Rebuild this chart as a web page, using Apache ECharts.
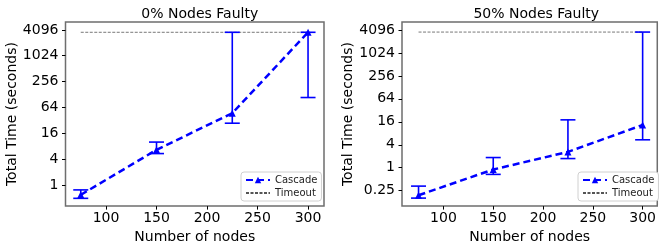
<!DOCTYPE html>
<html>
<head>
<meta charset="utf-8">
<script src="https://cdn.jsdelivr.net/npm/echarts@6/dist/echarts.min.js"></script>
<style>
  html, body { margin: 0; padding: 0; background: #fff; }
  #chart { width: 659px; height: 249px; }
</style>
</head>
<body>
<div id="chart"></div>
<script>
// values (seconds)
const nodes = [75, 150, 225, 300];
const timeout = 3600;
const xTicks = [100, 150, 200, 250, 300];
const yTicks = [-2, 0, 2, 4, 6, 8, 10, 12]; // log2 exponents

const cascade0 = [0.59, 6.6, 47, 3600];
const cascade0Lo = [0.49, 5.4, 27.5, 109];
const cascade0Hi = [0.77, 10, 3600, 3600];

const cascade50 = [0.19, 0.9, 2.6, 13.2];
const cascade50Lo = [0.16, 0.67, 1.74, 5.4];
const cascade50Hi = [0.33, 1.85, 18, 3600];

const titles = ['0% Nodes Faulty', '50% Nodes Faulty'];

const FONT = 'DejaVu Sans';
const BLUE = '#0000ff';

const chart = echarts.init(document.getElementById('chart'), null, { renderer: 'canvas' });

function errRender(params, api) {
  const x = api.value(0);
  const p1 = api.coord([x, api.value(1)]);
  const p2 = api.coord([x, api.value(2)]);
  const cap = 7.5;
  const style = { stroke: BLUE, lineWidth: 1.6 };
  return {
    type: 'group',
    children: [
      { type: 'line', shape: { x1: p1[0], y1: p1[1], x2: p2[0], y2: p2[1] }, style },
      { type: 'line', shape: { x1: p1[0] - cap, y1: p1[1], x2: p1[0] + cap, y2: p1[1] }, style },
      { type: 'line', shape: { x1: p2[0] - cap, y1: p2[1], x2: p2[0] + cap, y2: p2[1] }, style },
    ],
  };
}

const grids = [
  { left: 65.5, top: 22, width: 258.5, height: 186 },
  { left: 402, top: 22, width: 258.5, height: 186 },
];
const xRange = [[59.9, 315.8], [58.4, 314.7]];
const yRange = [[-1.63, 12.61], [-3.34, 12.69]];
const sets = [
  [cascade0, cascade0Lo, cascade0Hi],
  [cascade50, cascade50Lo, cascade50Hi],
];

const option = {
  animation: false,
  textStyle: { fontFamily: FONT },
  title: titles.map((t, i) => ({
    text: t,
    left: grids[i].left + grids[i].width / 2,
    textAlign: 'center',
    top: 2,
    textStyle: { fontFamily: FONT, fontSize: 14, fontWeight: 'normal', color: '#000' },
  })),
  grid: grids.map(g => Object.assign({
    show: true, borderColor: '#6e6e6e', borderWidth: 1.5, backgroundColor: 'transparent',
  }, g)),
  legend: grids.map((g, i) => ({
    data: ['Cascade', { name: 'Timeout', itemStyle: { opacity: 0 } }],
    orient: 'vertical',
    left: i === 0 ? 241 : 578,
    top: 172,
    padding: [3, 4],
    itemGap: 3,
    itemWidth: 24,
    itemHeight: 8,
    borderColor: '#d0d0d0',
    borderWidth: 1,
    borderRadius: 3,
    backgroundColor: '#fff',
    selectedMode: false,
    textStyle: { fontFamily: FONT, fontSize: 10, color: '#222' },
  })),
  xAxis: grids.map((g, i) => ({
    type: 'value',
    gridIndex: i,
    min: xRange[i][0],
    max: xRange[i][1],
    name: 'Number of nodes',
    nameLocation: 'middle',
    nameGap: 23,
    nameTextStyle: { fontFamily: FONT, fontSize: 14, color: '#000' },
    splitLine: { show: false },
    axisLine: { show: false, onZero: false },
    axisTick: { show: true, length: 3.5, lineStyle: { color: '#000' }, customValues: xTicks },
    axisLabel: { fontFamily: FONT, fontSize: 14, color: '#000', margin: 5, customValues: xTicks },
  })),
  yAxis: grids.map((g, i) => {
    const ticks = yTicks.filter(v => v >= yRange[i][0] && v <= yRange[i][1]);
    return {
      type: 'value',
      gridIndex: i,
      min: yRange[i][0],
      max: yRange[i][1],
      name: 'Total Time (seconds)',
      nameLocation: 'middle',
      nameGap: i === 0 ? 42 : 41,
      nameTextStyle: { fontFamily: FONT, fontSize: 14, color: '#000' },
      splitLine: { show: false },
      axisLine: { show: false, onZero: false },
      axisTick: { show: true, length: 3.5, lineStyle: { color: '#000' }, customValues: ticks },
      axisLabel: {
        fontFamily: FONT, fontSize: 14, color: '#000', margin: 7,
        customValues: ticks,
        formatter: v => String(Math.pow(2, v)),
      },
    };
  }),
  series: [],
};

sets.forEach((s, i) => {
  const [mean, lo, hi] = s;
  option.series.push({
    name: 'Timeout',
    type: 'line',
    xAxisIndex: i,
    yAxisIndex: i,
    data: [[nodes[0], Math.log2(timeout)], [nodes[nodes.length - 1], Math.log2(timeout)]],
    symbol: 'none',
    color: '#555',
    lineStyle: { color: '#555', width: 0.8, type: [3, 1.5] },
    z: 2,
  });
  option.series.push({
    name: 'errors',
    type: 'custom',
    xAxisIndex: i,
    yAxisIndex: i,
    renderItem: errRender,
    encode: { x: 0, y: [1, 2] },
    data: nodes.map((n, k) => [n, Math.log2(lo[k]), Math.log2(hi[k])]),
    clip: false,
    z: 3,
  });
  option.series.push({
    name: 'Cascade',
    type: 'line',
    xAxisIndex: i,
    yAxisIndex: i,
    data: nodes.map((n, k) => [n, Math.log2(mean[k])]),
    symbol: 'triangle',
    symbolSize: 7,
    color: BLUE,
    itemStyle: { color: BLUE },
    lineStyle: { color: BLUE, width: 2.5, type: [7, 4] },
    z: 4,
  });
});

chart.setOption(option);
</script>
</body>
</html>
